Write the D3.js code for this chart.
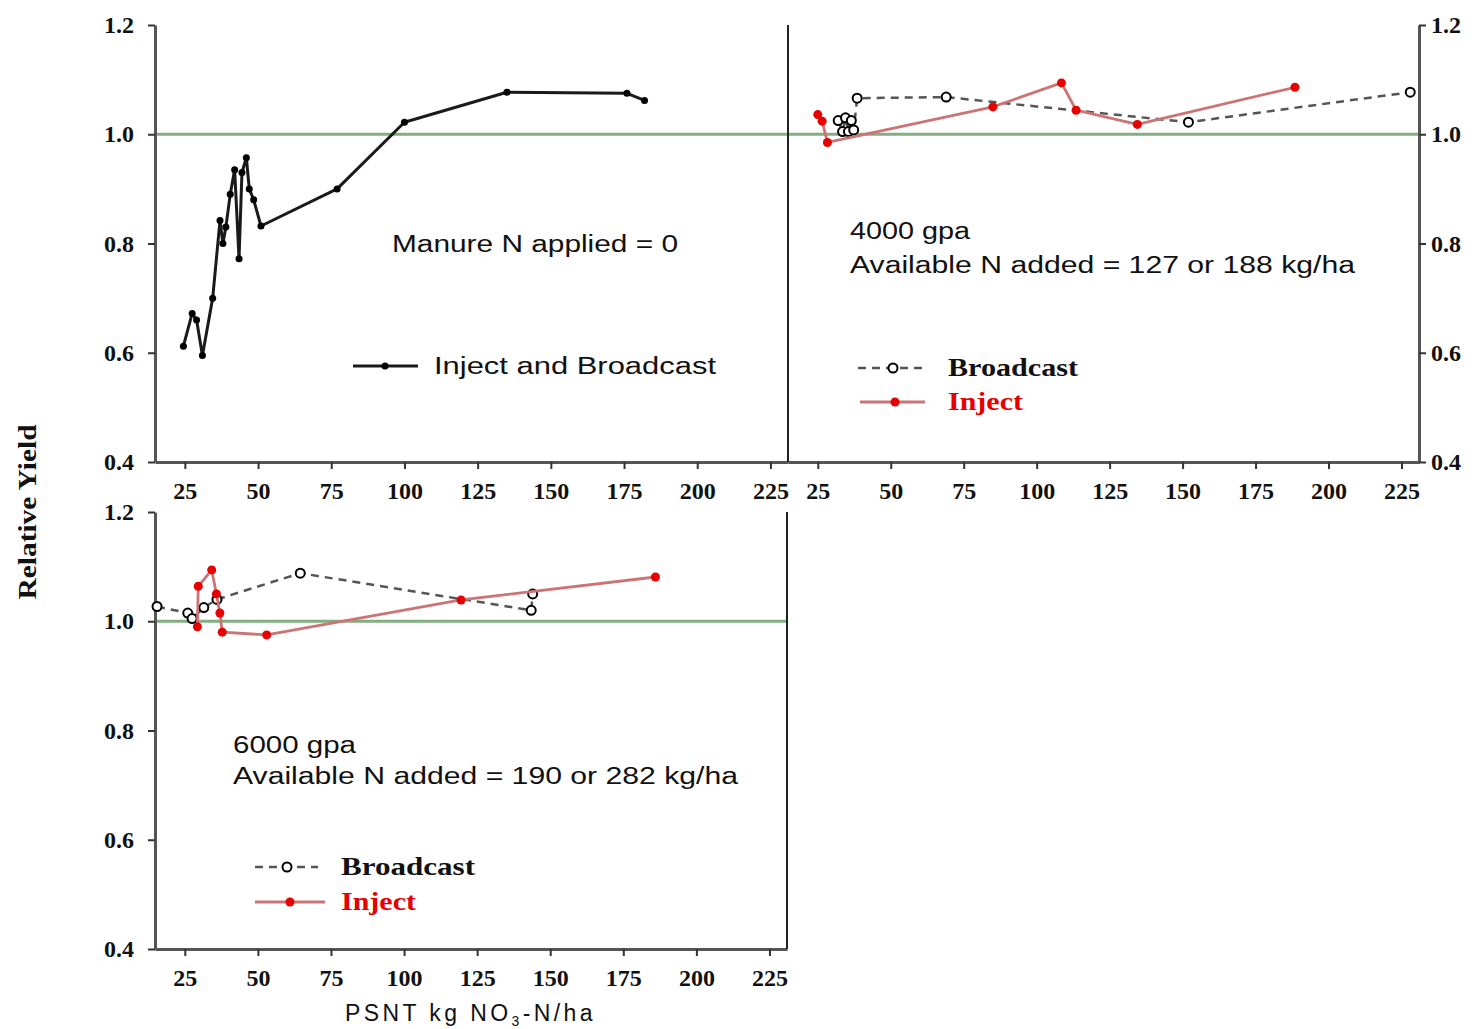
<!DOCTYPE html>
<html>
<head>
<meta charset="utf-8">
<script src="https://cdn.jsdelivr.net/npm/d3@7"></script>
<style>
  html, body { margin: 0; padding: 0; background: #fff; }
  svg { display: block; }
  .tick text { font-family: "Liberation Serif", "Times New Roman", serif; font-weight: bold; font-size: 24px; fill: #111; }
</style>
</head>
<body>
<svg id="chart" width="1475" height="1029"></svg>
<script>
// ---------------- DATA ----------------
const xTicks = [25, 50, 75, 100, 125, 150, 175, 200, 225];
const yTicks = [0.4, 0.6, 0.8, 1.0, 1.2];
const referenceYield = 1.0;

// Panel 1: manure N applied = 0 (inject and broadcast)
const noManureX = [24.5, 27.5, 29, 31, 34.5, 37, 38, 39, 40.5, 42, 43.5, 44.5, 46, 47, 48.5, 51, 77, 100, 135, 176, 182];
const noManureY = [0.612, 0.672, 0.66, 0.595, 0.70, 0.842, 0.80, 0.83, 0.89, 0.935, 0.772, 0.93, 0.957, 0.90, 0.88, 0.832, 0.90, 1.022, 1.077, 1.075, 1.062];

// Panel 2: 4000 gpa
const bc4000X = [32, 33.5, 34.5, 35.5, 36.5, 37.3, 38.5, 69, 152, 228];
const bc4000Y = [1.025, 1.005, 1.03, 1.005, 1.025, 1.008, 1.066, 1.068, 1.022, 1.077];
const inj4000X = [25, 26.5, 28.3, 85, 108.5, 113.5, 134.5, 188.5];
const inj4000Y = [1.036, 1.024, 0.985, 1.05, 1.094, 1.044, 1.018, 1.086];

// Panel 3: 6000 gpa
const bc6000X = [15.5, 26, 27.5, 31.5, 36, 64.5, 143.5, 144];
const bc6000Y = [1.027, 1.015, 1.005, 1.025, 1.04, 1.088, 1.02, 1.05];
const inj6000X = [29.3, 29.6, 34.2, 35.8, 37, 37.8, 53, 119.5, 186];
const inj6000Y = [0.99, 1.064, 1.094, 1.05, 1.015, 0.98, 0.975, 1.039, 1.081];

// ---------------- DRAW ----------------
const svg = d3.select("#chart");
const zip = (xs, ys) => xs.map((x, i) => [x, ys[i]]);

const GREEN = "#82ae82";
const AXIS = "#555";
const RED_LINE = "#cc7474";
const RED_PT = "#e60000";

const xDomain = [14.8, 231];
const panels = [
  { id: "p1", x0: 155, x1: 788, y0: 25, y1: 462, yAxis: "left", rightLine: false },
  { id: "p2", x0: 788, x1: 1419, y0: 25, y1: 462, yAxis: "right", leftLine: true },
  { id: "p3", x0: 155, x1: 787, y0: 512, y1: 949, yAxis: "left", rightLine: true }
];
panels.forEach(p => {
  p.x = d3.scaleLinear().domain(xDomain).range([p.x0, p.x1]);
  p.y = d3.scaleLinear().domain([0.4, 1.2]).range([p.y1, p.y0]);
  p.g = svg.append("g").attr("id", p.id);
});

function styleAxis(g) {
  g.select(".domain").attr("stroke", AXIS).attr("stroke-width", 3);
  g.selectAll(".tick line").attr("stroke", "#333").attr("stroke-width", 2);
}

panels.forEach(p => {
  p.g.append("line")
    .attr("x1", p.x0).attr("x2", p.x1)
    .attr("y1", p.y(referenceYield)).attr("y2", p.y(referenceYield))
    .attr("stroke", GREEN).attr("stroke-width", 3);

  const xa = p.g.append("g").attr("transform", `translate(0,${p.y1})`)
    .call(d3.axisBottom(p.x).tickValues(xTicks).tickSize(7).tickSizeOuter(0).tickPadding(12));
  styleAxis(xa);
  xa.selectAll(".tick text").attr("dy", "0.75em");

  if (p.yAxis === "left") {
    const ya = p.g.append("g").attr("transform", `translate(${p.x0},0)`)
      .call(d3.axisLeft(p.y).tickValues(yTicks).tickFormat(d3.format(".1f")).tickSize(7).tickSizeOuter(0).tickPadding(14));
    styleAxis(ya);
  } else {
    const ya = p.g.append("g").attr("transform", `translate(${p.x1},0)`)
      .call(d3.axisRight(p.y).tickValues(yTicks).tickFormat(d3.format(".1f")).tickSize(7).tickSizeOuter(0).tickPadding(5));
    styleAxis(ya);
  }
  if (p.leftLine) {
    p.g.append("line").attr("x1", p.x0).attr("x2", p.x0).attr("y1", p.y0).attr("y2", p.y1)
      .attr("stroke", "#222").attr("stroke-width", 2);
  }
  if (p.rightLine) {
    p.g.append("line").attr("x1", p.x1).attr("x2", p.x1).attr("y1", p.y0).attr("y2", p.y1)
      .attr("stroke", "#222").attr("stroke-width", 2);
  }
});

function drawSeries(p, data, opt) {
  const line = d3.line().x(d => p.x(d[0])).y(d => p.y(d[1]));
  p.g.append("path").datum(data)
    .attr("d", line).attr("fill", "none")
    .attr("stroke", opt.stroke).attr("stroke-width", opt.width)
    .attr("stroke-dasharray", opt.dash || null)
    .attr("stroke-linejoin", "round");
  p.g.selectAll(null).data(data).enter().append("circle")
    .attr("cx", d => p.x(d[0])).attr("cy", d => p.y(d[1]))
    .attr("r", opt.r)
    .attr("fill", opt.fill).attr("stroke", opt.ptStroke || "none")
    .attr("stroke-width", opt.ptWidth || 0);
}

const styles = {
  both: { stroke: "#1a1a1a", width: 3, r: 3.5, fill: "#000" },
  bc: { stroke: "#555", width: 2.5, dash: "8,6", r: 4.5, fill: "#fff", ptStroke: "#000", ptWidth: 2 },
  inj: { stroke: RED_LINE, width: 2.8, r: 4.5, fill: RED_PT }
};

drawSeries(panels[0], zip(noManureX, noManureY), styles.both);
drawSeries(panels[1], zip(bc4000X, bc4000Y), styles.bc);
drawSeries(panels[1], zip(inj4000X, inj4000Y), styles.inj);
drawSeries(panels[2], zip(bc6000X, bc6000Y), styles.bc);
drawSeries(panels[2], zip(inj6000X, inj6000Y), styles.inj);

function fitText(sel, len) {
  sel.attr("textLength", len).attr("lengthAdjust", "spacingAndGlyphs");
}

function legendEntry(xs, xe, xm, y, st, label, tx, font, color, len) {
  svg.append("line").attr("x1", xs).attr("x2", xe).attr("y1", y).attr("y2", y)
    .attr("stroke", st.stroke).attr("stroke-width", st.width).attr("stroke-dasharray", st.dash || null);
  svg.append("circle").attr("cx", xm).attr("cy", y).attr("r", st.r)
    .attr("fill", st.fill).attr("stroke", st.ptStroke || "none").attr("stroke-width", st.ptWidth || 0);
  const t = svg.append("text").attr("x", tx).attr("y", y + 8).text(label)
    .attr("fill", color).style("font-size", font.size)
    .style("font-family", font.family).style("font-weight", font.weight);
  fitText(t, len);
}
const sans = { size: "23px", family: "'Liberation Sans', Arial, sans-serif", weight: "normal" };
const serifB = { size: "25px", family: "'Liberation Serif', 'Times New Roman', serif", weight: "bold" };

legendEntry(353, 418, 385, 366, styles.both, "Inject and Broadcast", 434, sans, "#111", 282);
legendEntry(858, 922, 893, 368, styles.bc, "Broadcast", 948, serifB, "#111", 130);
legendEntry(860, 925, 895, 402, styles.inj, "Inject", 948, serifB, RED_PT, 75);
legendEntry(255, 318, 287, 867, styles.bc, "Broadcast", 341, serifB, "#111", 134);
legendEntry(255, 325, 290, 902, styles.inj, "Inject", 341, serifB, RED_PT, 75);

function note(x, y, str, len) {
  const t = svg.append("text").attr("x", x).attr("y", y).text(str)
    .attr("fill", "#111").style("font-size", "23px")
    .style("font-family", "'Liberation Sans', Arial, sans-serif");
  fitText(t, len);
}
note(392, 252, "Manure N applied = 0", 286);
note(850, 239, "4000 gpa", 120);
note(850, 273, "Available N added = 127 or 188 kg/ha", 505);
note(233, 753, "6000 gpa", 123);
note(233, 784, "Available N added = 190 or 282 kg/ha", 505);

// axis titles
const yt = svg.append("text")
  .attr("transform", "translate(36,512) rotate(-90)")
  .attr("text-anchor", "middle")
  .style("font-family", "'Liberation Serif', 'Times New Roman', serif")
  .style("font-weight", "bold").style("font-size", "25px").attr("fill", "#111")
  .text("Relative Yield");
fitText(yt, 175);

const xt = svg.append("text").attr("x", 345).attr("y", 1021)
  .style("font-family", "'Liberation Sans', Arial, sans-serif")
  .style("font-size", "23px").style("letter-spacing", "3.4px").attr("fill", "#111");
xt.append("tspan").text("PSNT kg NO");
xt.append("tspan").attr("dy", 5).style("font-size", "14px").text("3");
xt.append("tspan").attr("dy", -5).text("-N/ha");
</script>
</body>
</html>
